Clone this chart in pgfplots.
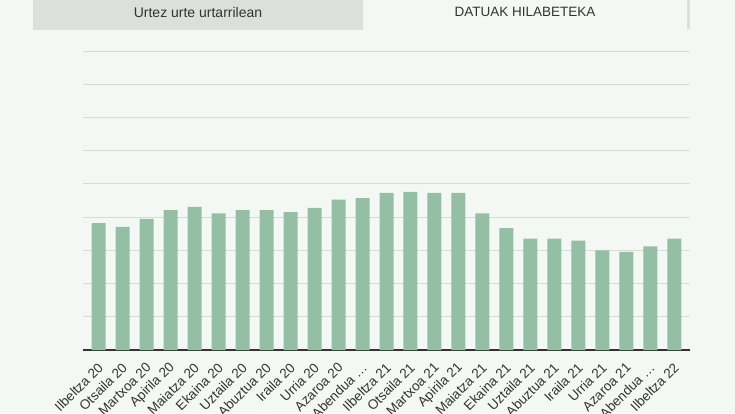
\documentclass[border=0pt]{standalone}
\usepackage{pgfplots}
\pgfplotsset{compat=1.18}
\usepackage{fontspec}
\setmainfont{Liberation Sans}

\definecolor{bgc}{HTML}{F4F8F5}
\definecolor{tabgray}{HTML}{DCDFDC}
\definecolor{barc}{HTML}{94BFA5}
\definecolor{gridc}{HTML}{D8DBD8}
\definecolor{txt}{HTML}{333333}

% month index, value (gridline units)
\begin{document}
\begin{tikzpicture}[x=1pt,y=1pt]
\path[use as bounding box, clip] (0,0) rectangle (735,413);
\fill[bgc] (0,0) rectangle (735,413);

% tabs
\fill[tabgray] (33,383) rectangle (363,413);
\fill[tabgray] (686.5,384) rectangle (689.5,413);
\node[text=txt, font=\fontsize{14}{16}\selectfont] at (198,401) {Urtez urte urtarrilean};
\node[text=txt, font=\fontsize{13.5}{16}\selectfont] at (525,401) {DATUAK HILABETEKA};

\begin{axis}[
    at={(83pt,63pt)}, anchor=south west,
    scale only axis,
    width=607pt, height=299pt,
    xmin=-0.65, xmax=24.65,
    ymin=0, ymax=9,
    axis x line*=bottom,
    axis y line*=left,
    y axis line style={draw=none},
    x axis line style={-, draw=txt, line width=1.6pt},
    ytick={1,2,...,9},
    yticklabels={},
    ytick style={draw=none},
    ymajorgrids,
    major grid style={gridc, line width=0.9pt},
    xtick={0,...,24},
    xtick style={draw=none},
    xticklabels={Ilbeltza 20, Otsaila 20, Martxoa 20, Apirila 20, Maiatza 20,
      Ekaina 20, Uztaila 20, Abuztua 20, Iraila 20, Urria 20, Azaroa 20,
      {Abendua \ldots}, Ilbeltza 21, Otsaila 21, Martxoa 21, Apirila 21, Maiatza 21,
      Ekaina 21, Uztaila 21, Abuztua 21, Iraila 21, Urria 21, Azaroa 21,
      {Abendua \ldots}, Ilbeltza 22},
    xticklabel style={rotate=45, anchor=east, inner sep=0pt,
      xshift=-9.3pt, yshift=-12.2pt, text=txt,
      font=\fontsize{13.5}{16}\selectfont},
    ]
\addplot[ybar, bar width=14pt, fill=barc, draw=none] table {
x y
0 3.82
1 3.71
2 3.95
3 4.21
4 4.31
5 4.11
6 4.21
7 4.21
8 4.15
9 4.28
10 4.53
11 4.57
12 4.73
13 4.76
14 4.73
15 4.73
16 4.11
17 3.67
18 3.35
19 3.35
20 3.29
21 3.00
22 2.95
23 3.12
24 3.35
};
\end{axis}
\end{tikzpicture}
\end{document}
